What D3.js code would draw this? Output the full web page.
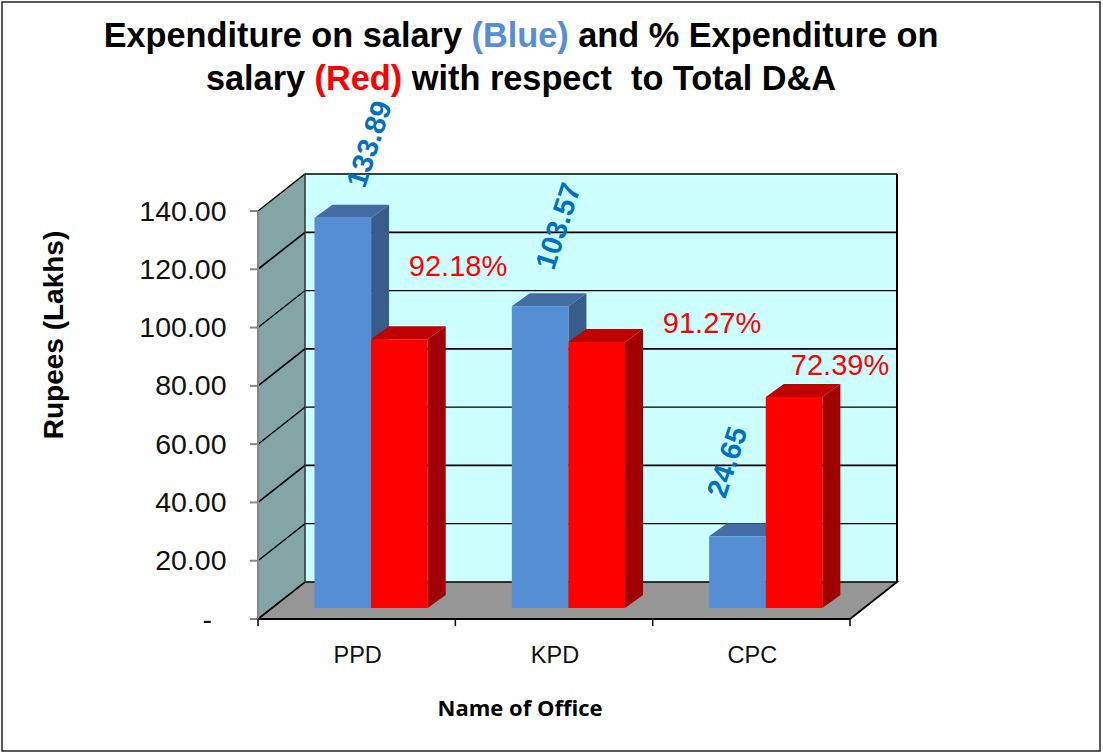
<!DOCTYPE html>
<html><head><meta charset="utf-8">
<script src="https://cdn.jsdelivr.net/npm/d3@7"></script>
<style>html,body{margin:0;padding:0;background:#fff}svg{display:block}text{font-family:"Liberation Sans",Arial,sans-serif}</style>
</head><body><svg id="c" width="1103" height="754"></svg>
<script>
const categories = ["PPD","KPD","CPC"];
const salaryValues = [133.89,103.57,24.65];
const percentValues = [92.18,91.27,72.39];
const salaryLabels = ["133.89","103.57","24.65"];
const percentLabels = ["92.18%","91.27%","72.39%"];
const yTicks = [0,20,40,60,80,100,120,140];
const yTickLabels = ["-","20.00","40.00","60.00","80.00","100.00","120.00","140.00"];

const svg = d3.select("#c");
const x = d3.scaleBand().domain(categories).range([258,850]);
const y = d3.scaleLinear().domain([0,140]).range([619,211]);
const wallDx = 47, wallDy = -37, barDx = 18, barDy = -13, barBaseDy = -11;
const bw = x.bandwidth();
const barInset = 56.5, barW = 56.6;

svg.append("rect").attr("x",2).attr("y",2).attr("width",1098).attr("height",749).attr("fill","#fff").attr("stroke","#222").attr("stroke-width",1.5);

const poly = (pts,fill,stroke)=>svg.append("polygon").attr("points",pts.map(p=>p.join(",")).join(" ")).attr("fill",fill).attr("stroke",stroke||"none");
const x0=x.range()[0], x1=x.range()[1], y0=y(0), yT=y(140);
poly([[x0+wallDx,yT+wallDy],[x1+wallDx,yT+wallDy],[x1+wallDx,y0+wallDy],[x0+wallDx,y0+wallDy]],"#ccffff");
poly([[x0,y0],[x0,yT],[x0+wallDx,yT+wallDy],[x0+wallDx,y0+wallDy]],"#83a5a5");
poly([[x0,y0],[x1,y0],[x1+wallDx,y0+wallDy],[x0+wallDx,y0+wallDy]],"#969696");
yTicks.forEach(t=>{
  svg.append("path").attr("fill","none").attr("stroke","#000").attr("stroke-width",t%40===0?1.7:1.3)
    .attr("d",t===0?`M${x0},${y(t)}L${x0+wallDx},${y(t)+wallDy}L${x1+wallDx},${y(t)+wallDy}L${x1},${y(t)}`:`M${x0},${y(t)}L${x0+wallDx},${y(t)+wallDy}L${x1+wallDx},${y(t)+wallDy}`);
});
svg.append("path").attr("fill","none").attr("stroke","#333").attr("stroke-width",1.5)
  .attr("d",`M${x0+wallDx},${yT+wallDy}V${y0+wallDy}`);
svg.append("path").attr("fill","none").attr("stroke","#000").attr("stroke-width",2)
  .attr("d",`M${x1+wallDx},${yT+wallDy}V${y0+wallDy}`);
svg.append("path").attr("stroke","#868686").attr("stroke-width",2).attr("fill","none").attr("d",`M${x0},${yT}V${y0}`);
svg.selectAll(".yt").data(yTicks).join("line").attr("x1",x0-8).attr("x2",x0).attr("y1",d=>y(d)).attr("y2",d=>y(d)).attr("stroke","#868686").attr("stroke-width",2);
svg.selectAll(".yl").data(yTicks).join("text").attr("y",d=>y(d)+9.5).attr("text-anchor","end").attr("font-size",28.5).attr("fill","#111")
  .attr("x",(d,i)=>i===0?212:226.5).text((d,i)=>yTickLabels[i]);
svg.append("path").attr("stroke","#000").attr("stroke-width",2).attr("fill","none").attr("d",`M${x0},${y0}H${x1}`);
const xEdges = [...categories.map(c=>x(c)),x1];
svg.selectAll(".xt").data(xEdges).join("line").attr("x1",d=>d).attr("x2",d=>d).attr("y1",y0).attr("y2",y0+7).attr("stroke","#000").attr("stroke-width",1.5);
svg.selectAll(".xl").data(categories).join("text").attr("x",c=>x(c)+bw/2+1).attr("y",663).attr("text-anchor","middle").attr("font-size",23.5).attr("fill","#111").text(c=>c);

function bar(xL,val,front,top,side){
  const yt=y(val)+barBaseDy, yb=y0+barBaseDy;
  poly([[xL+barW,yb],[xL+barW,yt],[xL+barW+barDx,yt+barDy],[xL+barW+barDx,yb+barDy]],side);
  poly([[xL,yt],[xL+barW,yt],[xL+barW+barDx,yt+barDy],[xL+barDx,yt+barDy]],top);
  poly([[xL,yt],[xL+barW,yt],[xL+barW,yb],[xL,yb]],front);
}
categories.forEach((c,i)=>{
  const xs=x(c)+barInset;
  bar(xs,salaryValues[i],"#558ed5","#426ca3","#375d8a");
  bar(xs+barW,percentValues[i],"#ff0000","#c00000","#a00000");
});
const blueAt=[[369,144],[558,226],[727,462]];
salaryLabels.forEach((t,i)=>{
  svg.append("text").attr("transform",`translate(${blueAt[i][0]},${blueAt[i][1]}) rotate(-72)`).attr("text-anchor","middle").attr("dominant-baseline","central")
    .attr("font-size",29).attr("font-weight","bold").attr("fill","#0070c0").text(t);
});
const redAt=[[458,276],[712,333],[840,375]];
percentLabels.forEach((t,i)=>{
  svg.append("text").attr("x",redAt[i][0]).attr("y",redAt[i][1]).attr("text-anchor","middle").attr("font-size",29).attr("fill","#ff0000").text(t);
});
const titleLines=[[["Expenditure on salary ","#000"],["(Blue)","#558ed5"],[" and % Expenditure on","#000"]],
 [["salary ","#000"],["(Red)","#ff0000"],[" with respect  to Total D&A","#000"]]];
titleLines.forEach((parts,i)=>{
  const tx=svg.append("text").attr("x",521).attr("y",[47,90][i]).attr("text-anchor","middle").attr("font-size",34.3).attr("font-weight","bold").style("white-space","pre");
  parts.forEach(p=>tx.append("tspan").attr("fill",p[1]).text(p[0]));
});
svg.append("text").attr("transform","translate(63,335) rotate(-90)").attr("text-anchor","middle").attr("font-size",28).attr("font-weight","bold").attr("fill","#000").text("Rupees (Lakhs)");
svg.append("text").attr("x",520).attr("y",716).attr("text-anchor","middle").attr("font-size",22).attr("font-weight","bold").style("font-family","'Open Sans',sans-serif").attr("fill","#000").text("Name of Office");
</script></body></html>
